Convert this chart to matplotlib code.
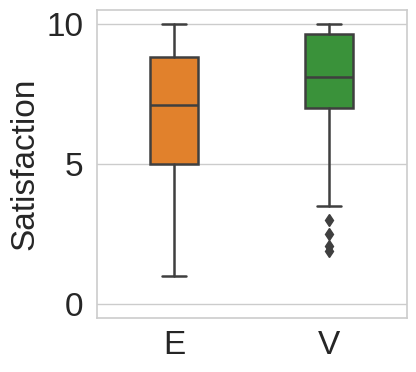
import matplotlib
matplotlib.use("Agg")
import matplotlib.pyplot as plt
import seaborn as sns

categories = ["E", "V"]
whislo = [1.0, 3.5]
q1 = [5.0, 7.0]
med = [7.12, 8.12]
q3 = [8.83, 9.66]
whishi = [10.0, 10.0]
fliers = [[], [3.0, 2.5, 2.08, 1.88]]
colors = ["#e1812c", "#3a923a"]

sns.set_style("whitegrid")
plt.rcParams["font.family"] = ["Liberation Sans", "DejaVu Sans"]

fig = plt.figure(figsize=(4.16, 3.72), dpi=100)
ax = fig.add_axes([0.233, 0.146, 0.745, 0.827])

stats = []
for i, name in enumerate(categories):
    stats.append({
        "label": name,
        "whislo": whislo[i],
        "q1": q1[i],
        "med": med[i],
        "q3": q3[i],
        "whishi": whishi[i],
        "fliers": fliers[i],
    })

line = "#3f3f3f"
bp = ax.bxp(
    stats,
    positions=range(len(categories)),
    widths=0.31,
    patch_artist=True,
    showfliers=True,
    boxprops=dict(edgecolor=line, linewidth=1.8),
    medianprops=dict(color=line, linewidth=1.8),
    whiskerprops=dict(color=line, linewidth=1.8),
    capprops=dict(color=line, linewidth=1.8),
    flierprops=dict(marker="d", markerfacecolor=line, markeredgecolor=line, markersize=6),
    capwidths=0.155,
)
for patch, c in zip(bp["boxes"], colors):
    patch.set_facecolor(c)

ax.set_xlim(-0.5, 1.5)
ax.set_ylim(-0.5, 10.5)
ax.set_yticks([0, 5, 10])
ax.set_xticks(range(len(categories)))
ax.set_xticklabels(categories)
ax.tick_params(labelsize=24, length=0, colors="#262626")
ax.tick_params(axis="y", pad=10)
ax.tick_params(axis="x", pad=9)
ax.set_ylabel("Satisfaction", fontsize=24, color="#262626", labelpad=4)
ax.grid(axis="x", visible=False)
ax.grid(axis="y", color="#cccccc", linewidth=1)
for s in ax.spines.values():
    s.set_color("#cccccc")
    s.set_linewidth(1.2)

fig.savefig("out.png", dpi=100)
